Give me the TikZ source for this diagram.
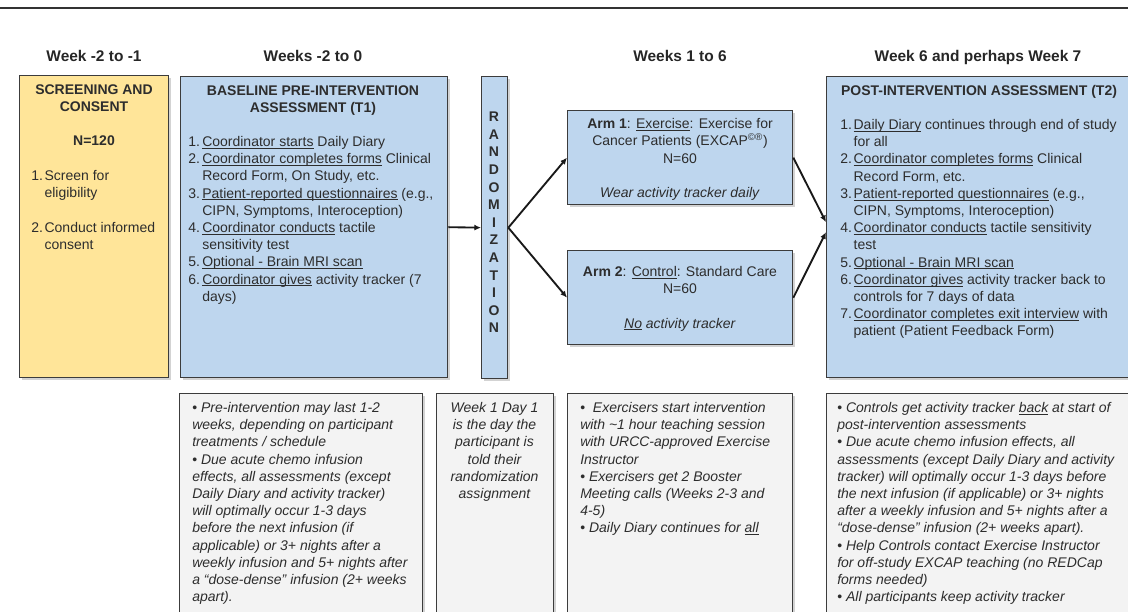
\documentclass[tikz,border=0pt]{standalone}
\usepackage{fontspec}
\setmainfont{Liberation Sans}
\usetikzlibrary{arrows.meta,shadows,calc}
\definecolor{yfill}{RGB}{255,229,153}
\definecolor{bfill}{RGB}{190,214,238}
\definecolor{gfill}{RGB}{243,243,243}
\definecolor{edgec}{RGB}{60,60,60}
\definecolor{txtc}{RGB}{45,45,45}
\newcommand{\bodyfont}{\fontsize{10.5}{12.9}\selectfont}
\newcommand{\bul}{{\upshape •}}
\newcommand{\uln}[1]{\leavevmode\setbox0\hbox{#1}\rlap{\rule[-1.4pt]{\wd0}{0.5pt}}\box0\relax}
\tikzset{
  boxbase/.style={draw=edgec, line width=1pt, inner sep=0pt, anchor=north west,
    drop shadow={shadow xshift=1.5pt, shadow yshift=-1.8pt, opacity=0.35}},
  ybox/.style={boxbase, fill=yfill},
  bbox/.style={boxbase, fill=bfill},
  gbox/.style={boxbase, fill=gfill},
  hdr/.style={font=\bfseries\fontsize{11.6}{13}\selectfont, text=black!85, anchor=base, inner sep=0pt},
  txtnode/.style={inner sep=0pt, text=txtc, font=\bodyfont},
  arr/.style={line width=1.4pt, draw=black!90, -{Latex[length=5pt,width=4.5pt]}},
}
\begin{document}
\begin{tikzpicture}[x=0.75pt,y=-0.75pt]
\useasboundingbox (0,0) rectangle (1128,611);
% top rule
\draw[line width=1.5pt, draw=black!80] (0,8) -- (1128,8);
% headers
\node[hdr] (h1) at (94,61) {Week -2 to -1};
\node[hdr] (h2) at (313,61) {Weeks -2 to 0};
\node[hdr] (h3) at (680,61) {Weeks 1 to 6};
\node[hdr] (h4) at (978,61) {Week 6 and perhaps Week 7};
% boxes
\node[ybox, minimum width=111.75pt, minimum height=226.5pt] (screen) at (19,75) {};
\node[bbox, minimum width=200.25pt, minimum height=225.75pt] (base) at (180,76) {};
\node[bbox, minimum width=19.5pt, minimum height=226.5pt] (rand) at (481,76) {};
\node[bbox, minimum width=168.75pt, minimum height=70.5pt] (arm1) at (567,110) {};
\node[bbox, minimum width=168.75pt, minimum height=70.5pt] (arm2) at (567,250) {};
\node[bbox, minimum width=228.75pt, minimum height=225.75pt] (post) at (826,76) {};
\node[gbox, minimum width=182.25pt, minimum height=174pt] (nbase) at (179,393) {};
\node[gbox, minimum width=87.75pt, minimum height=174pt] (nrand) at (436,393) {};
\node[gbox, minimum width=168.75pt, minimum height=174pt] (narm) at (567,393) {};
\node[gbox, minimum width=228.75pt, minimum height=174pt] (npost) at (826,393) {};
% screening text
\node[txtnode, anchor=base, font=\bfseries\bodyfont] (screenT) at (94,94.5)
  {\begin{tabular}[t]{@{}c@{}}SCREENING AND\\CONSENT\end{tabular}};
\node[txtnode, anchor=base, font=\bfseries\bodyfont] (screenN) at (94,145.5) {N=120};
\node[txtnode, anchor=base west] (screenL) at (31,180.5)
  {\begin{tabular}[t]{@{}p{10pt}@{}l@{}}1.&Screen for\\&eligibility\\&\\2.&Conduct informed\\&consent\end{tabular}};
% baseline text
\node[txtnode, anchor=base, font=\bfseries\bodyfont] (baseT) at (313,95.5)
  {\begin{tabular}[t]{@{}c@{}}BASELINE PRE-INTERVENTION\\ASSESSMENT (T1)\end{tabular}};
\node[txtnode, anchor=base west] (baseL) at (188,146.5)
  {\begin{tabular}[t]{@{}p{10.5pt}@{}l@{}}
  1.&\uln{Coordinator starts} Daily Diary\\
  2.&\uln{Coordinator completes forms} Clinical\\
  &Record Form, On Study, etc.\\
  3.&\uln{Patient-reported questionnaires} (e.g.,\\
  &CIPN, Symptoms, Interoception)\\
  4.&\uln{Coordinator conducts} tactile\\
  &sensitivity test\\
  5.&\uln{Optional - Brain MRI scan}\\
  6.&\uln{Coordinator gives} activity tracker (7\\
  &days)
  \end{tabular}};
% randomization
\node[txtnode, anchor=center, align=center, font=\bfseries\fontsize{10.5}{13.2}\selectfont] (randT) at (494,222.5)
  {R\\A\\N\\D\\O\\M\\I\\Z\\A\\T\\I\\O\\N};
% arms
\node[txtnode, anchor=base] (arm1T) at (680,128.5)
  {\begin{tabular}[t]{@{}c@{}}\textbf{Arm 1}: \uln{Exercise}: Exercise for\\
   Cancer Patients (EXCAP\textsuperscript{©®})\\N=60\\ {} \\
   \textit{Wear activity tracker daily}\end{tabular}};
\node[txtnode, anchor=base] (arm2T) at (680,276.5)
  {\begin{tabular}[t]{@{}c@{}}\textbf{Arm 2}: \uln{Control}: Standard Care\\
   N=60\\ {} \\
   \textit{\uln{No} activity tracker}\end{tabular}};
% post text
\node[txtnode, anchor=base, font=\bfseries\bodyfont] (postT) at (979,95.5) {POST-INTERVENTION ASSESSMENT (T2)};
\node[txtnode, anchor=base west] (postL) at (840,129.5)
  {\begin{tabular}[t]{@{}p{10pt}@{}l@{}}
  1.&\uln{Daily Diary} continues through end of study\\
  &for all\\
  2.&\uln{Coordinator completes forms} Clinical\\
  &Record Form, etc.\\
  3.&\uln{Patient-reported questionnaires} (e.g.,\\
  &CIPN, Symptoms, Interoception)\\
  4.&\uln{Coordinator conducts} tactile sensitivity\\
  &test\\
  5.&\uln{Optional - Brain MRI scan}\\
  6.&\uln{Coordinator gives} activity tracker back to\\
  &controls for 7 days of data\\
  7.&\uln{Coordinator completes exit interview} with\\
  &patient (Patient Feedback Form)
  \end{tabular}};
% notes
\node[txtnode, anchor=base west, font=\bodyfont\itshape] (nbaseT) at (192,412.5)
  {\begin{tabular}[t]{@{}l@{}}
  \bul{} Pre-intervention may last 1-2\\
  weeks, depending on participant\\
  treatments / schedule\\
  \bul{} Due acute chemo infusion\\
  effects, all assessments (except\\
  Daily Diary and activity tracker)\\
  will optimally occur 1-3 days\\
  before the next infusion (if\\
  applicable) or 3+ nights after a\\
  weekly infusion and 5+ nights after\\
  a “dose-dense” infusion (2+ weeks\\
  apart).
  \end{tabular}};
\node[txtnode, anchor=base, font=\bodyfont\itshape] (nrandT) at (494.5,412.5)
  {\begin{tabular}[t]{@{}c@{}}
  Week 1 Day 1\\is the day the\\participant is\\told their\\randomization\\assignment
  \end{tabular}};
\node[txtnode, anchor=base west, font=\bodyfont\itshape] (narmT) at (580,412.5)
  {\begin{tabular}[t]{@{}l@{}}
  \bul{}\ \ Exercisers start intervention\\
  with \textasciitilde1 hour teaching session\\
  with URCC-approved Exercise\\
  Instructor\\
  \bul{} Exercisers get 2 Booster\\
  Meeting calls (Weeks 2-3 and\\
  4-5)\\
  \bul{} Daily Diary continues for \uln{all}
  \end{tabular}};
\node[txtnode, anchor=base west, font=\bodyfont\itshape] (npostT) at (837,412.5)
  {\begin{tabular}[t]{@{}l@{}}
  \bul{} Controls get activity tracker \uln{back} at start of\\
  post-intervention assessments\\
  \bul{} Due acute chemo infusion effects, all\\
  assessments (except Daily Diary and activity\\
  tracker) will optimally occur 1-3 days before\\
  the next infusion (if applicable) or 3+ nights\\
  after a weekly infusion and 5+ nights after a\\
  “dose-dense” infusion (2+ weeks apart).\\
  \bul{} Help Controls contact Exercise Instructor\\
  for off-study EXCAP teaching (no REDCap\\
  forms needed)\\
  \bul{} All participants keep activity tracker
  \end{tabular}};
% connectors
\draw[arr] (base.east) -- (rand.west);
\draw[arr] (rand.east) -- (arm1.west);
\draw[arr] (rand.east) -- (arm2.west);
\draw[arr] (arm1.east) -- ($(post.west)+(0,-5)$);
\draw[arr] (arm2.east) -- ($(post.west)+(0,5)$);
\end{tikzpicture}
\end{document}
